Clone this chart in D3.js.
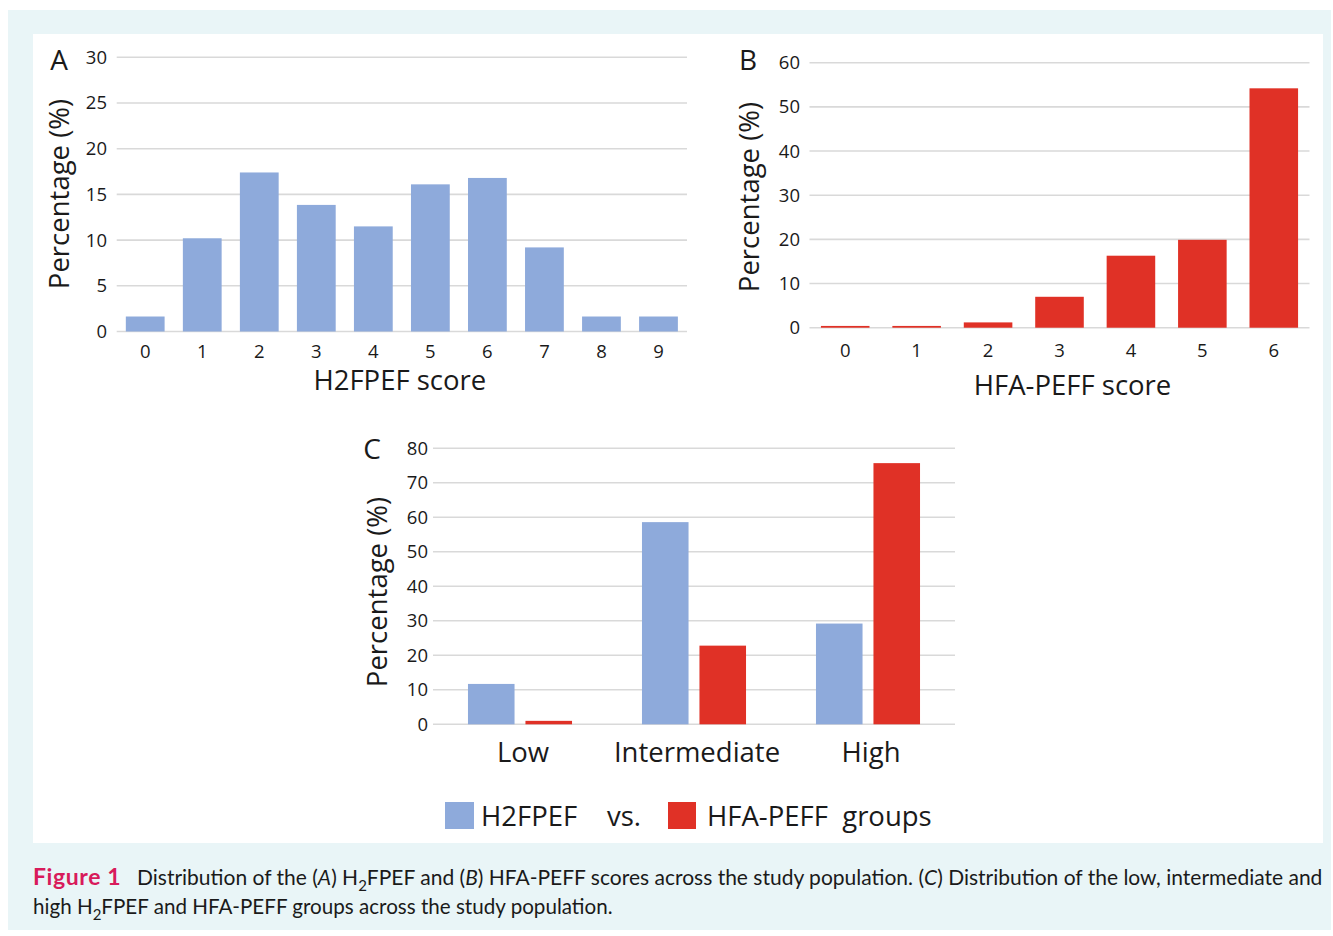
<!DOCTYPE html>
<html>
<head>
<meta charset="utf-8">
<script src="https://cdn.jsdelivr.net/npm/d3@7"></script>
<style>
  html, body { margin: 0; padding: 0; background: #fff; }
  svg text { font-family: "Open Sans", sans-serif; fill: #1a1a1a; }
</style>
</head>
<body>
<div id="fig"></div>
<script>
// panel A: H2FPEF score distribution
var scoresA = ["0","1","2","3","4","5","6","7","8","9"];
var pctA = [1.64, 10.2, 17.4, 13.85, 11.5, 16.1, 16.8, 9.2, 1.64, 1.64];
var ticksA = [0, 5, 10, 15, 20, 25, 30];

// panel B: HFA-PEFF score distribution
var scoresB = ["0","1","2","3","4","5","6"];
var pctB = [0.4, 0.4, 1.2, 7.0, 16.3, 19.9, 54.2];
var ticksB = [0, 10, 20, 30, 40, 50, 60];

// panel C: low / intermediate / high groups
var groupsC = ["Low", "Intermediate", "High"];
var seriesC = ["H2FPEF", "HFA-PEFF"];
var h2fpefC = [11.7, 58.6, 29.2];
var hfapeffC = [1.0, 22.8, 75.7];
var ticksC = [0, 10, 20, 30, 40, 50, 60, 70, 80];

var BLUE = "#8eaadb", RED = "#e03126", GRID = "#d9d9d9";
var BIG = "27.5px", TICK = "18.5px";

var svg = d3.select("#fig").append("svg")
    .attr("width", 1333)
    .attr("height", 936);

svg.append("rect").attr("x", 8).attr("y", 10).attr("width", 1323).attr("height", 920).attr("fill", "#e9f5f7");
svg.append("rect").attr("x", 33).attr("y", 34).attr("width", 1290).attr("height", 809).attr("fill", "#fff");

function yAxis(g, y, x0, x1, ticks, labelX) {
    g.selectAll("line.grid").data(ticks).join("line")
        .attr("class", "grid")
        .attr("x1", x0).attr("x2", x1)
        .attr("y1", function(d) { return y(d); })
        .attr("y2", function(d) { return y(d); })
        .attr("stroke", GRID).attr("stroke-width", 1.6);
    g.selectAll("text.tick").data(ticks).join("text")
        .attr("class", "tick")
        .attr("x", labelX)
        .attr("y", function(d) { return y(d); })
        .attr("dy", "0.35em")
        .attr("text-anchor", "end")
        .style("font-size", TICK)
        .text(function(d) { return d; });
}

function yTitle(g, cx, cy) {
    g.append("text")
        .attr("transform", "translate(" + cx + "," + cy + ") rotate(-90)")
        .attr("text-anchor", "middle")
        .attr("dy", "0.35em")
        .style("font-size", BIG)
        .text("Percentage (%)");
}

function panelLetter(g, x, y, s) {
    g.append("text").attr("x", x).attr("y", y)
        .attr("text-anchor", "middle")
        .style("font-size", "28px")
        .text(s);
}

function simplePanel(cats, vals, ticks, color, xr, yr, ymax, labelX, titleX, title, tickOff, titleOff) {
    var g = svg.append("g");
    var x = d3.scaleBand().domain(cats).range(xr).paddingInner(0.32).paddingOuter(0.16);
    var y = d3.scaleLinear().domain([0, ymax]).range(yr);
    yAxis(g, y, xr[0], xr[1], ticks, labelX);
    g.selectAll("rect.bar").data(vals).join("rect")
        .attr("class", "bar")
        .attr("x", function(d, i) { return x(cats[i]); })
        .attr("width", x.bandwidth())
        .attr("y", function(d) { return y(d); })
        .attr("height", function(d) { return y(0) - y(d); })
        .attr("fill", color);
    g.selectAll("text.cat").data(cats).join("text")
        .attr("class", "cat")
        .attr("x", function(d) { return x(d) + x.bandwidth() / 2; })
        .attr("y", y(0) + tickOff)
        .attr("dy", "0.35em")
        .attr("text-anchor", "middle")
        .style("font-size", TICK)
        .text(function(d) { return d; });
    g.append("text")
        .attr("x", (xr[0] + xr[1]) / 2 + titleX)
        .attr("y", y(0) + titleOff)
        .attr("dy", "0.35em")
        .attr("text-anchor", "middle")
        .style("font-size", BIG)
        .text(title);
    return {g: g, x: x, y: y};
}

var pa = simplePanel(scoresA, pctA, ticksA, BLUE, [116.7, 687], [331.5, 57.3], 30, 107, -2, "H2FPEF score", 20, 48.5);
yTitle(pa.g, 59, 194);
panelLetter(pa.g, 59, 70, "A");

var pb = simplePanel(scoresB, pctB, ticksB, RED, [809.5, 1309.5], [327.7, 62.7], 60, 800, 13, "HFA-PEFF score", 23, 58);
yTitle(pb.g, 749, 197);
panelLetter(pb.g, 748, 70, "B");

// panel C: grouped bars
var gc = svg.append("g");
var x0 = d3.scaleBand().domain(groupsC).range([433, 955]).paddingInner(0.402).paddingOuter(0.201);
var x1 = d3.scaleBand().domain(seriesC).range([0, x0.bandwidth()]).paddingInner(0.19);
var yc = d3.scaleLinear().domain([0, 80]).range([724.3, 448.3]);
var color = d3.scaleOrdinal().domain(seriesC).range([BLUE, RED]);
yAxis(gc, yc, 433, 955, ticksC, 428);

var rowsC = groupsC.map(function(gname, i) {
    return [{g: gname, s: seriesC[0], v: h2fpefC[i]}, {g: gname, s: seriesC[1], v: hfapeffC[i]}];
});
gc.selectAll("g.grp").data(rowsC).join("g")
    .attr("class", "grp")
    .attr("transform", function(d, i) { return "translate(" + x0(groupsC[i]) + ",0)"; })
  .selectAll("rect").data(function(d) { return d; }).join("rect")
    .attr("x", function(d) { return x1(d.s); })
    .attr("width", x1.bandwidth())
    .attr("y", function(d) { return yc(d.v); })
    .attr("height", function(d) { return yc(0) - yc(d.v); })
    .attr("fill", function(d) { return color(d.s); });

gc.selectAll("text.cat").data(groupsC).join("text")
    .attr("class", "cat")
    .attr("x", function(d) { return x0(d) + x0.bandwidth() / 2 + 3; })
    .attr("y", yc(0) + 28)
    .attr("dy", "0.35em")
    .attr("text-anchor", "middle")
    .style("font-size", BIG)
    .text(function(d) { return d; });

yTitle(gc, 377, 592);
panelLetter(gc, 372, 459, "C");

// legend
var leg = gc.append("g").attr("transform", "translate(445,802)");
leg.append("rect").attr("width", 29).attr("height", 27).attr("fill", BLUE);
leg.append("text").attr("x", 36).attr("y", 14).attr("dy", "0.35em").style("font-size", BIG).text("H2FPEF");
leg.append("text").attr("x", 162).attr("y", 14).attr("dy", "0.35em").style("font-size", BIG).text("vs.");
leg.append("rect").attr("x", 223).attr("width", 28).attr("height", 27).attr("fill", RED);
leg.append("text").attr("x", 262).attr("y", 14).attr("dy", "0.35em").style("font-size", BIG)
    .attr("xml:space", "preserve").text("HFA-PEFF  groups");

// caption
var CAP = "21px";
var cap = svg.append("g");
cap.append("text").attr("x", 33).attr("y", 885)
    .style("font-family", "Lato, sans-serif").style("font-size", "23px")
    .style("font-weight", "bold").style("letter-spacing", "0.6px").style("fill", "#d81b5b")
    .text("Figure 1");
var line1 = cap.append("text").attr("x", 137).attr("y", 885).style("font-family", "Lato, sans-serif").style("font-size", CAP);
line1.append("tspan").text("Distribution of the (");
line1.append("tspan").style("font-style", "italic").text("A");
line1.append("tspan").text(") H");
line1.append("tspan").attr("dy", 6).style("font-size", "15px").text("2");
line1.append("tspan").attr("dy", -6).text("FPEF and (");
line1.append("tspan").style("font-style", "italic").text("B");
line1.append("tspan").text(") HFA-PEFF scores across the study population. (");
line1.append("tspan").style("font-style", "italic").text("C");
line1.append("tspan").text(") Distribution of the low, intermediate and");

var line2 = cap.append("text").attr("x", 33).attr("y", 914).style("font-family", "Lato, sans-serif").style("font-size", "20.6px");
line2.append("tspan").text("high H");
line2.append("tspan").attr("dy", 6).style("font-size", "15px").text("2");
line2.append("tspan").attr("dy", -6).text("FPEF and HFA-PEFF groups across the study population.");
</script>
</body>
</html>
